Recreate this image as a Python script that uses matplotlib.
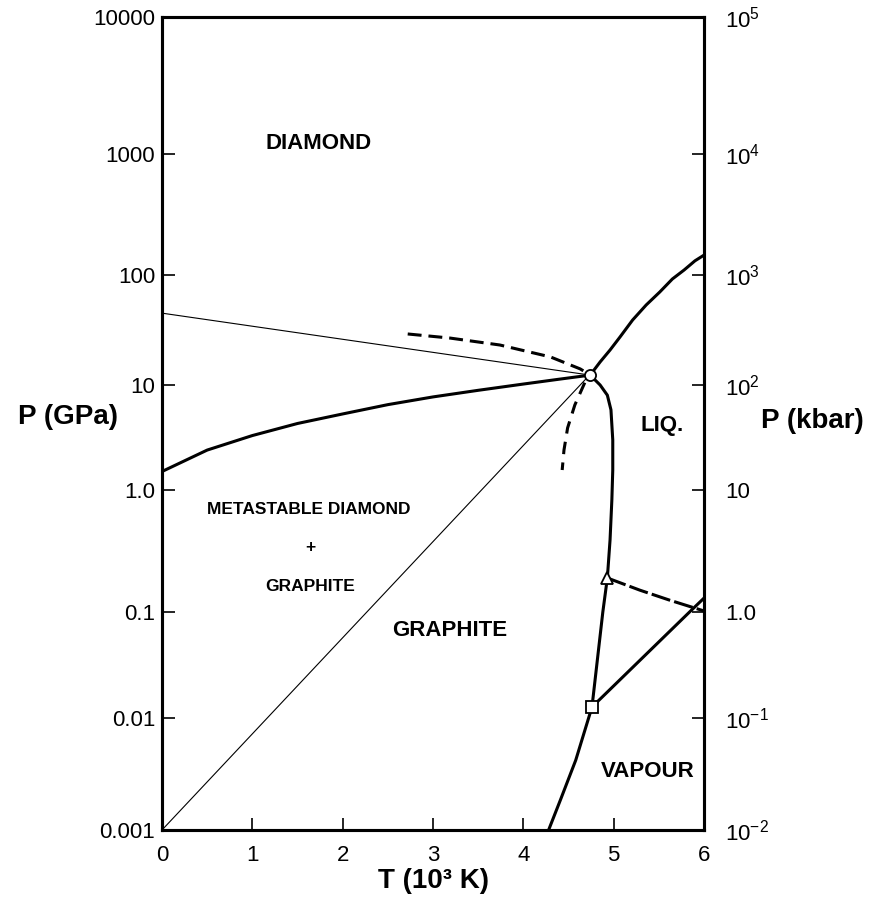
import matplotlib
matplotlib.use('Agg')
import matplotlib.pyplot as plt
import numpy as np

plt.rcParams['font.family'] = ['Liberation Sans', 'DejaVu Sans']
plt.rcParams['lines.scale_dashes'] = False

# ---- data (T in 10^3 K, P in GPa) ----
# graphite / diamond equilibrium line
T_gd = [0.0, 0.5, 1.0, 1.5, 2.0, 2.5, 3.0, 3.5, 4.0, 4.4, 4.74]
P_gd = [1.5, 2.4, 3.3, 4.3, 5.3, 6.5, 7.7, 8.9, 10.2, 11.3, 12.3]

# diamond melting line
T_dm = [4.74, 4.85, 4.96, 5.07, 5.21, 5.36, 5.51, 5.65, 5.78, 5.90, 6.0]
P_dm = [12.3, 16.2, 20.8, 27.3, 39.0, 53.4, 70.0, 92.0, 110.0, 131.0, 146.0]

# graphite melting + sublimation line
T_gm = [4.74, 4.85, 4.93, 4.97, 4.99, 4.99, 4.98, 4.96, 4.93, 4.88, 4.76, 4.58, 4.41, 4.28]
P_gm = [12.3, 10.0, 8.0, 5.8, 3.0, 1.55, 0.83, 0.39, 0.19, 0.10, 0.0127, 0.0042, 0.00185, 0.001]

# thin straight lines
T_thin1 = [0.0, 4.74]
P_thin1 = [45.0, 12.3]
T_thin2 = [0.0, 4.72]
P_thin2 = [0.001, 12.0]

# dashed metastable extensions
T_dash1 = [2.72, 3.19, 3.74, 4.30, 4.63, 4.72]
P_dash1 = [29.1, 26.7, 23.1, 18.0, 14.0, 12.6]
T_dash2 = [4.68, 4.57, 4.49, 4.45, 4.43]
P_dash2 = [10.5, 6.45, 3.9, 2.4, 1.55]
T_dash3 = [4.93, 5.29, 5.62, 6.0]
P_dash3 = [0.19, 0.151, 0.125, 0.102]

# line from the square point
T_sq = [4.76, 5.84, 6.0]
P_sq = [0.0127, 0.10, 0.130]

# special points
T_tp, P_tp = 4.74, 12.3      # circle
T_tri, P_tri = 4.93, 0.19    # triangle
T_box, P_box = 4.76, 0.0127  # square

yticks = [0.001, 0.01, 0.1, 1.0, 10, 100, 1000, 10000]
ylabels_gpa = ['0.001', '0.01', '0.1', '1.0', '10', '100', '1000', '10000']
ylabels_kbar = [r'$\mathregular{10^{-2}}$', r'$\mathregular{10^{-1}}$', '1.0', '10',
                r'$\mathregular{10^{2}}$', r'$\mathregular{10^{3}}$',
                r'$\mathregular{10^{4}}$', r'$\mathregular{10^{5}}$']
xticks = [0, 1, 2, 3, 4, 5, 6]

# the original log axis is hand drawn, decades are not equally spaced
dec = np.arange(-3, 5)
dec_pos = -np.array([830, 718, 612, 490, 385, 275, 154, 17], dtype=float)

def fwd(p):
    p = np.clip(np.asarray(p, dtype=float), 1e-12, None)
    return np.interp(np.log10(p), dec, dec_pos)

def inv(v):
    return 10 ** np.interp(v, dec_pos, dec)

fig = plt.figure(figsize=(8.69, 9.11), dpi=100)
ax = fig.add_axes([162 / 869, 1 - 830 / 911, 542 / 869, 813 / 911])
ax.set_yscale('function', functions=(fwd, inv))
ax.set_xlim(0, 6)
ax.set_ylim(0.001, 10000)

thick = 2.2
ax.plot(T_gd, P_gd, color='black', lw=thick)
ax.plot(T_dm, P_dm, color='black', lw=thick)
ax.plot(T_gm, P_gm, color='black', lw=thick)
ax.plot(T_thin1, P_thin1, color='black', lw=0.8)
ax.plot(T_thin2, P_thin2, color='black', lw=0.8)
ax.plot(T_dash1, P_dash1, color='black', lw=thick, dashes=(10, 5))
ax.plot(T_dash2, P_dash2, color='black', lw=thick, dashes=(9, 6))
ax.plot(T_dash3, P_dash3, color='black', lw=thick, dashes=(14, 3))
ax.plot(T_sq, P_sq, color='black', lw=thick)

ax.plot(T_tp, P_tp, marker='o', ms=8, mfc='white', mec='black', mew=1.3, zorder=5)
ax.plot(T_tri, P_tri, marker='^', ms=8, mfc='white', mec='black', mew=1.3, zorder=5)
ax.plot(T_box, P_box, marker='s', ms=8, mfc='white', mec='black', mew=1.3, zorder=5)

# region labels
big = dict(fontsize=16, fontweight='bold', ha='center', va='center')
small = dict(fontsize=12.5, fontweight='bold', ha='center', va='center')
ax.text(1.73, 1200, 'DIAMOND', **big)
ax.text(3.19, 0.0676, 'GRAPHITE', **big)
ax.text(5.54, 4.07, 'LIQ.', **big)
ax.text(5.38, 0.00336, 'VAPOUR', **big)
ax.text(1.63, 0.686, 'METASTABLE DIAMOND', **small)
ax.text(1.64, 0.335, '+', **small)
ax.text(1.64, 0.163, 'GRAPHITE', **small)

# axes styling
for s in ax.spines.values():
    s.set_linewidth(2.2)
ax.set_xticks(xticks)
ax.set_xticklabels([str(t) for t in xticks])
ax.set_yticks(yticks)
ax.set_yticklabels(ylabels_gpa)
ax.minorticks_off()
ax.tick_params(axis='x', direction='in', length=9, width=1.2, labelsize=16, pad=11)
ax.tick_params(axis='y', direction='in', length=9.5, width=1.2, labelsize=16, pad=5)

# right hand axis in kbar, same positions
ax2 = ax.twinx()
ax2.set_yscale('function', functions=(fwd, inv))
ax2.set_ylim(0.001, 10000)
ax2.set_yticks(yticks)
ax2.set_yticklabels(ylabels_kbar)
ax2.minorticks_off()
ax2.tick_params(axis='y', direction='in', length=9, width=1.2, labelsize=16, pad=15)
for s in ax2.spines.values():
    s.set_linewidth(2.2)

fig.text(68 / 869, 1 - 417 / 911, 'P (GPa)', fontsize=20, fontweight='bold', ha='center', va='center')
fig.text(812 / 869, 1 - 421 / 911, 'P (kbar)', fontsize=20, fontweight='bold', ha='center', va='center')
fig.text(433 / 869, 1 - 881 / 911, 'T (10\u00b3 K)', fontsize=20, fontweight='bold', ha='center', va='center')

fig.savefig('out.png', dpi=100)
